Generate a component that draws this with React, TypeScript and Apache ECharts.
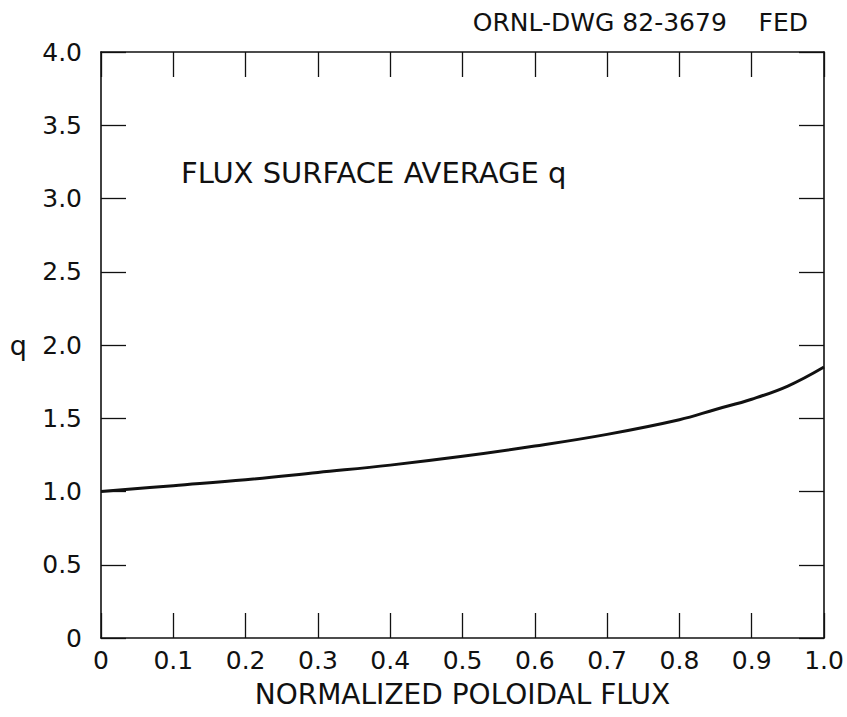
import React, { useEffect, useRef } from "react";
import * as echarts from "echarts";

// Normalized poloidal flux (abscissa) and flux-surface-averaged safety factor q
const fluxValues = [0, 0.1, 0.2, 0.3, 0.4, 0.5, 0.6, 0.7, 0.8, 0.85, 0.9, 0.95, 1.0];
const qValues = [1.0, 1.04, 1.08, 1.13, 1.18, 1.24, 1.31, 1.39, 1.49, 1.56, 1.63, 1.72, 1.85];

const drawingId = "ORNL-DWG 82-3679    FED";
const curveLabel = "FLUX SURFACE AVERAGE q";
const xName = "NORMALIZED POLOIDAL FLUX";
const yName = "q";

const FONT = "DejaVu Sans";
const INK = "#111";

const fmt = (v: number) => (v === 0 ? "0" : v.toFixed(1));

export default function App() {
  const ref = useRef<HTMLDivElement>(null);

  useEffect(() => {
    if (!ref.current) return;
    const chart = echarts.init(ref.current, undefined, { renderer: "svg" });

    // Frame on all four sides, ticks pointing into the plot
    const axisLine = () => ({ show: true, onZero: false, lineStyle: { color: INK, width: 1.6 } });
    const tick = () => ({ show: true, inside: true, length: 25, lineStyle: { color: INK, width: 1.3 } });

    chart.setOption({
      animation: false,
      backgroundColor: "#fff",
      title: {
        text: drawingId,
        right: 34,
        top: 5,
        textStyle: { fontFamily: FONT, fontSize: 25, fontWeight: "normal", color: INK },
      },
      grid: {
        left: 101,
        right: 23,
        top: 52,
        bottom: 79,
        containLabel: false,
        outerBoundsMode: "none",
      },
      graphic: [
        {
          type: "text",
          left: 181,
          top: 158,
          style: { text: curveLabel, fontFamily: FONT, fontSize: 29, fill: INK },
        },
      ],
      xAxis: [
        {
          type: "value",
          min: 0,
          max: 1,
          interval: 0.1,
          position: "bottom",
          name: xName,
          nameLocation: "middle",
          nameGap: 42,
          nameTextStyle: { fontFamily: FONT, fontSize: 28, color: INK },
          axisLine: axisLine(),
          axisTick: tick(),
          splitLine: { show: false },
          axisLabel: {
            formatter: fmt,
            margin: 10,
            fontFamily: FONT,
            fontSize: 25,
            color: INK,
            showMinLabel: true,
            showMaxLabel: true,
          },
        },
        {
          type: "value",
          min: 0,
          max: 1,
          interval: 0.1,
          position: "top",
          axisLine: axisLine(),
          axisTick: tick(),
          splitLine: { show: false },
          axisLabel: { show: false },
        },
      ],
      yAxis: [
        {
          type: "value",
          min: 0,
          max: 4,
          interval: 0.5,
          position: "left",
          name: yName,
          nameLocation: "middle",
          nameRotate: 0,
          nameGap: 74,
          nameTextStyle: { fontFamily: FONT, fontSize: 27, color: INK },
          axisLine: axisLine(),
          axisTick: tick(),
          splitLine: { show: false },
          axisLabel: {
            formatter: fmt,
            margin: 19,
            fontFamily: FONT,
            fontSize: 25,
            color: INK,
          },
        },
        {
          type: "value",
          min: 0,
          max: 4,
          interval: 0.5,
          position: "right",
          axisLine: axisLine(),
          axisTick: tick(),
          splitLine: { show: false },
          axisLabel: { show: false },
        },
      ],
      series: [
        {
          type: "line",
          data: fluxValues.map((x, i) => [x, qValues[i]]),
          smooth: 0.4,
          showSymbol: false,
          lineStyle: { color: INK, width: 3 },
        },
      ],
    });

    return () => chart.dispose();
  }, []);

  return (
    <div
      ref={ref}
      style={{ position: "absolute", left: 0, top: 0, width: 847, height: 717 }}
    />
  );
}
